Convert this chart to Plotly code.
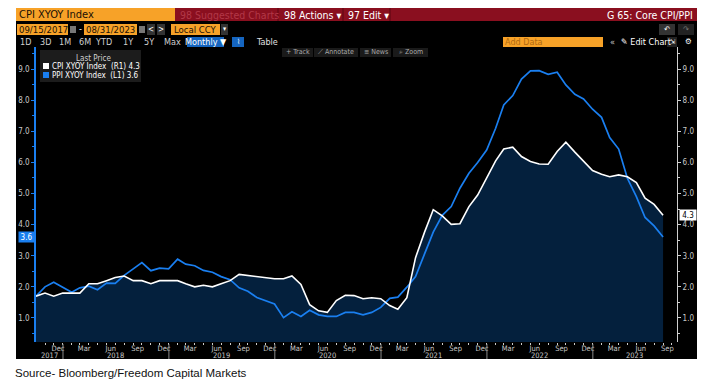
import pandas as pd
import plotly.graph_objects as go

# ---------------- data (monthly, Sep 2017 - Aug 2023) ----------------
dates = [d.strftime("%Y-%m-%d") for d in pd.date_range("2017-09-30", periods=72, freq="ME")]

cpi_yoy = [1.7, 1.8, 1.7, 1.8, 1.8, 1.8, 2.1, 2.1, 2.2, 2.3, 2.35, 2.2,
           2.2, 2.1, 2.2, 2.2, 2.2, 2.1, 2.0, 2.05, 2.0, 2.1, 2.2, 2.4,
           2.37, 2.32, 2.3, 2.26, 2.26, 2.35, 2.08, 1.43, 1.23, 1.18, 1.56, 1.73,
           1.72, 1.62, 1.65, 1.62, 1.4, 1.28, 1.65, 2.94, 3.76, 4.48, 4.28, 4.01,
           4.03, 4.58, 4.95, 5.51, 6.05, 6.43, 6.49, 6.19, 6.03, 5.95, 5.94, 6.35,
           6.65, 6.33, 6.03, 5.74, 5.62, 5.54, 5.6, 5.54, 5.35, 4.85, 4.65, 4.3]

ppi_yoy = [1.7, 2.0, 2.15, 2.0, 1.83, 1.97, 2.02, 1.91, 2.12, 2.11, 2.37, 2.58,
           2.78, 2.52, 2.6, 2.58, 2.89, 2.73, 2.68, 2.53, 2.47, 2.33, 2.23, 1.97,
           1.86, 1.66, 1.56, 1.45, 1.01, 1.2, 1.05, 1.25, 1.1, 1.05, 1.05, 1.18,
           1.18, 1.1, 1.18, 1.34, 1.63, 1.67, 1.99, 2.33, 3.06, 3.76, 4.3, 4.58,
           5.17, 5.65, 6.0, 6.4, 7.1, 7.85, 8.15, 8.68, 8.94, 8.95, 8.83, 8.9,
           8.49, 8.19, 8.04, 7.71, 7.45, 6.8, 6.43, 5.49, 4.9, 4.23, 3.96, 3.6]

cpi_name = "CPI XYOY Index"
ppi_name = "PPI XYOY Index"
cpi_last = "4.3"
ppi_last = "3.6"

y_tick_vals = [1, 2, 3, 4, 5, 6, 7, 8, 9]
y_tick_text = ["1.0", "2.0", "3.0", "4.0", "5.0", "6.0", "7.0", "8.0", "9.0"]
y_minor_vals = [0.5, 1.5, 2.5, 3.5, 4.5, 5.5, 6.5, 7.5, 8.5, 9.5]

x_range = ["2017-09-30", "2023-10-18"]
y_range = [0.228, 9.71]

month_labels = {12: "Dec", 3: "Mar", 6: "Jun", 9: "Sep"}
years = ["2017", "2018", "2019", "2020", "2021", "2022", "2023"]

# ---------------- helpers ----------------
W, H = 720, 392
UI = "DejaVu Sans Condensed, Liberation Sans Narrow, Roboto, sans-serif"
def px(x): return x / W
def py(y): return 1 - y / H

ORANGE = "#f7a228"
RED = "#8a0f1f"
BLUE = "#1a7ff0"
NAVY = "#04203d"

# x ticks: quarter-month labels at mid month, minor ticks at month ends
q_tick_vals, q_tick_text = [], []
for d in pd.date_range("2017-12-01", "2023-09-30", freq="MS"):
    if d.month in month_labels:
        q_tick_vals.append((d + pd.Timedelta(days=14)).strftime("%Y-%m-%d"))
        q_tick_text.append(month_labels[d.month])
minor_x = [d.strftime("%Y-%m-%d") for d in pd.date_range("2017-10-31", "2023-09-30", freq="ME")]

fig = go.Figure()
fig.add_trace(go.Scatter(x=dates, y=cpi_yoy, mode="none", fill="tozeroy",
                         fillcolor=NAVY, yaxis="y", hoverinfo="skip", showlegend=False))
fig.add_trace(go.Scatter(x=dates, y=ppi_yoy, mode="lines", name=ppi_name,
                         line=dict(color=BLUE, width=1.7), yaxis="y", showlegend=False))
fig.add_trace(go.Scatter(x=dates, y=cpi_yoy, mode="lines", name=cpi_name,
                         line=dict(color="#ffffff", width=1.6), yaxis="y2", showlegend=False))

shapes, ann = [], []
def rect(x0, y0, x1, y1, color, line=None, layer="below"):
    shapes.append(dict(type="rect", xref="paper", yref="paper", x0=px(x0), x1=px(x1),
                       y0=py(y1), y1=py(y0), fillcolor=color, layer=layer,
                       line=dict(width=0 if line is None else 1, color=line or color)))
def text(x, y, s, size=9, color="#c8c8c8", anchor="left", family=UI, bg=None):
    ann.append(dict(xref="paper", yref="paper", x=px(x), y=py(y), text=s, showarrow=False,
                    xanchor=anchor, yanchor="middle", font=dict(size=size, color=color, family=family),
                    bgcolor=bg, borderpad=0))
def vline(x, y0, y1, color, width=1):
    shapes.append(dict(type="line", xref="paper", yref="paper", x0=px(x), x1=px(x),
                       y0=py(y0), y1=py(y1), line=dict(color=color, width=width)))

# Bloomberg window background
rect(16, 21, 697, 359, "#000000")
# title bar
rect(16, 8, 175, 21, ORANGE)
rect(175, 8, 697, 21, RED)
text(18, 15, "CPI XYOY Index", 11, "#1a1005")
text(179, 15, "98 Suggested Charts", 10.5, "#b23847")
vline(278, 8, 21, "#5a0712")
text(283, 15, "98 Actions ▾", 10.5, "#ffffff")
vline(343, 8, 21, "#5a0712")
text(347, 15, "97 Edit ▾", 10.5, "#ffffff")
vline(390, 8, 21, "#5a0712")
text(694, 15, "G 65: Core CPI/PPI", 10.5, "#ffffff", anchor="right")

# row 2
rect(17, 24, 68, 35, ORANGE)
text(18, 29.5, "09/15/2017", 9.5, "#1a1005")
rect(70, 26, 76, 33, "#777777")
text(80, 29.5, "-", 9, "#ffffff", anchor="center")
rect(84, 24, 137, 35, ORANGE)
text(85, 29.5, "08/31/2023", 9.5, "#1a1005")
rect(139, 26, 145, 33, "#777777")
rect(147, 24, 155, 35, "#333333")
text(151, 29.5, "<", 8, "#ffffff", anchor="center")
rect(157, 24, 165, 35, "#333333")
text(161, 29.5, ">", 8, "#ffffff", anchor="center")
rect(171, 24, 220, 35, ORANGE)
text(173, 29.5, "Local CCY", 9.5, "#1a1005")
rect(221, 24, 228, 35, "#333333")
text(224.5, 29.5, "▾", 7, "#ffffff", anchor="center")
rect(659, 24, 675, 35, "#333333")
text(667, 29.5, "↶", 8, "#ffffff", anchor="center")
rect(678, 24, 694, 35, "#222222")
text(686, 29.5, "↷", 8, "#777777", anchor="center")

# row 3
for lab, cx in [("1D", 25), ("3D", 45), ("1M", 65), ("6M", 85), ("YTD", 103),
                ("1Y", 128), ("5Y", 149), ("Max", 172)]:
    text(cx, 42, lab, 9, "#d0d0d0", anchor="center")
rect(187, 37, 224, 47, "#1565c0")
text(205.5, 42, "Monthly ▼", 9, "#ffffff", anchor="center")
rect(232, 37, 244, 47, "#1565c0")
text(238, 42, "⌇", 7, "#ffffff", anchor="center")
text(267, 42, "Table", 9, "#e0e0e0", anchor="center")
rect(503, 37, 603, 47, ORANGE)
text(504, 42, "Add Data", 9, "#b06a10")
text(612, 42, "«", 9, "#c8c8c8", anchor="center")
text(620, 42, "✎ Edit Chart", 9, "#ffffff")
rect(667, 37, 677, 47, "#222222")
text(672, 42, "⇲", 7, "#ffffff", anchor="center")
text(688, 42, "⚙", 8, "#ffffff", anchor="center")

# chart toolbar
for lab, x0, x1 in [("+ Track", 282, 313), ("⟋ Annotate", 314, 358),
                    ("≡ News", 360, 391), ("⌕ Zoom", 393, 428)]:
    rect(x0, 48, x1, 57, "#1a1a1a", layer="above")
    text((x0 + x1) / 2, 52.5, lab, 7, "#aaaaaa", anchor="center")

# legend box
rect(40, 50, 141, 82, "#1c1c1c", layer="above")
text(93, 58, "Last Price", 8, "#d0d0d0", anchor="center")
rect(43, 63, 49, 69, "#ffffff", layer="above")
text(51, 66, f"{cpi_name}  (R1) {cpi_last}", 8, "#ffffff")
rect(43, 72, 49, 78, BLUE, layer="above")
text(51, 75, f"{ppi_name}  (L1) {ppi_last}", 8, "#ffffff")

# last value markers on the axes
ann.append(dict(xref="paper", yref="y", x=px(35), y=float(ppi_last), text=ppi_last,
                showarrow=False, xanchor="right", yanchor="middle", bgcolor=BLUE,
                font=dict(size=8, color="#ffffff", family=UI), width=15, height=10, borderpad=0))
ann.append(dict(xref="paper", yref="y2", x=px(679), y=float(cpi_last), text=cpi_last,
                showarrow=False, xanchor="left", yanchor="middle", bgcolor="#ffffff",
                font=dict(size=8, color="#000000", family=UI), width=16, height=10, borderpad=0))

# year labels and separators below the time axis
rng0, rng1 = pd.Timestamp(x_range[0]), pd.Timestamp(x_range[1])
for yr in years:
    a = max(pd.Timestamp(f"{yr}-01-01"), rng0)
    b = min(pd.Timestamp(f"{int(yr) + 1}-01-01"), rng1)
    mid = a + (b - a) / 2
    ann.append(dict(xref="x", yref="paper", x=mid.strftime("%Y-%m-%d"), y=py(355), text=yr,
                    showarrow=False, xanchor="center", yanchor="middle",
                    font=dict(size=7.5, color="#c8c8c8", family=UI)))
    if int(yr) > 2017:
        shapes.append(dict(type="line", xref="x", yref="paper", x0=f"{yr}-01-01", x1=f"{yr}-01-01",
                           y0=py(359), y1=py(344), line=dict(color="#8a8a8a", width=1)))

# source line
text(14, 373, "Source- Bloomberg/Freedom Capital Markets", 11.5, "#111111",
     family="Liberation Sans, Arial, sans-serif")

axis_font = dict(size=8, color="#c8c8c8", family=UI)
fig.update_layout(
    width=W, height=H, margin=dict(l=0, r=0, t=0, b=0),
    paper_bgcolor="#ffffff", plot_bgcolor="#000000", showlegend=False,
    shapes=shapes, annotations=ann,
    xaxis=dict(domain=[px(36), px(677)], range=x_range, type="date",
               tickvals=q_tick_vals, ticktext=q_tick_text, ticks="", ticklen=0,
               tickfont=dict(size=7.5, color="#c8c8c8", family=UI),
               showgrid=False, zeroline=False, showline=False,
               minor=dict(tickvals=minor_x, ticks="outside", ticklen=2, tickcolor="#cccccc",
                          showgrid=False)),
    yaxis=dict(domain=[py(342), py(47)], range=y_range, side="left",
               tickvals=y_tick_vals, ticktext=y_tick_text, ticks="outside", ticklen=3,
               tickcolor=BLUE, tickfont=axis_font, showline=True, linecolor=BLUE, linewidth=1.5,
               showgrid=False, zeroline=False,
               minor=dict(tickvals=y_minor_vals, ticks="outside", ticklen=2, tickcolor=BLUE,
                          showgrid=False)),
    yaxis2=dict(overlaying="y", side="right", range=y_range, anchor="x",
                tickvals=y_tick_vals, ticktext=y_tick_text, ticks="outside", ticklen=3,
                tickcolor="#d0d0d0", tickfont=axis_font, showline=True, linecolor="#d0d0d0",
                linewidth=1, showgrid=False, zeroline=False,
                minor=dict(tickvals=y_minor_vals, ticks="outside", ticklen=2, tickcolor="#d0d0d0",
                           showgrid=False)),
)

fig.write_html("out.html", config={"displayModeBar": False},
               post_script="document.body.style.margin='0px';document.body.style.overflow='hidden';")
